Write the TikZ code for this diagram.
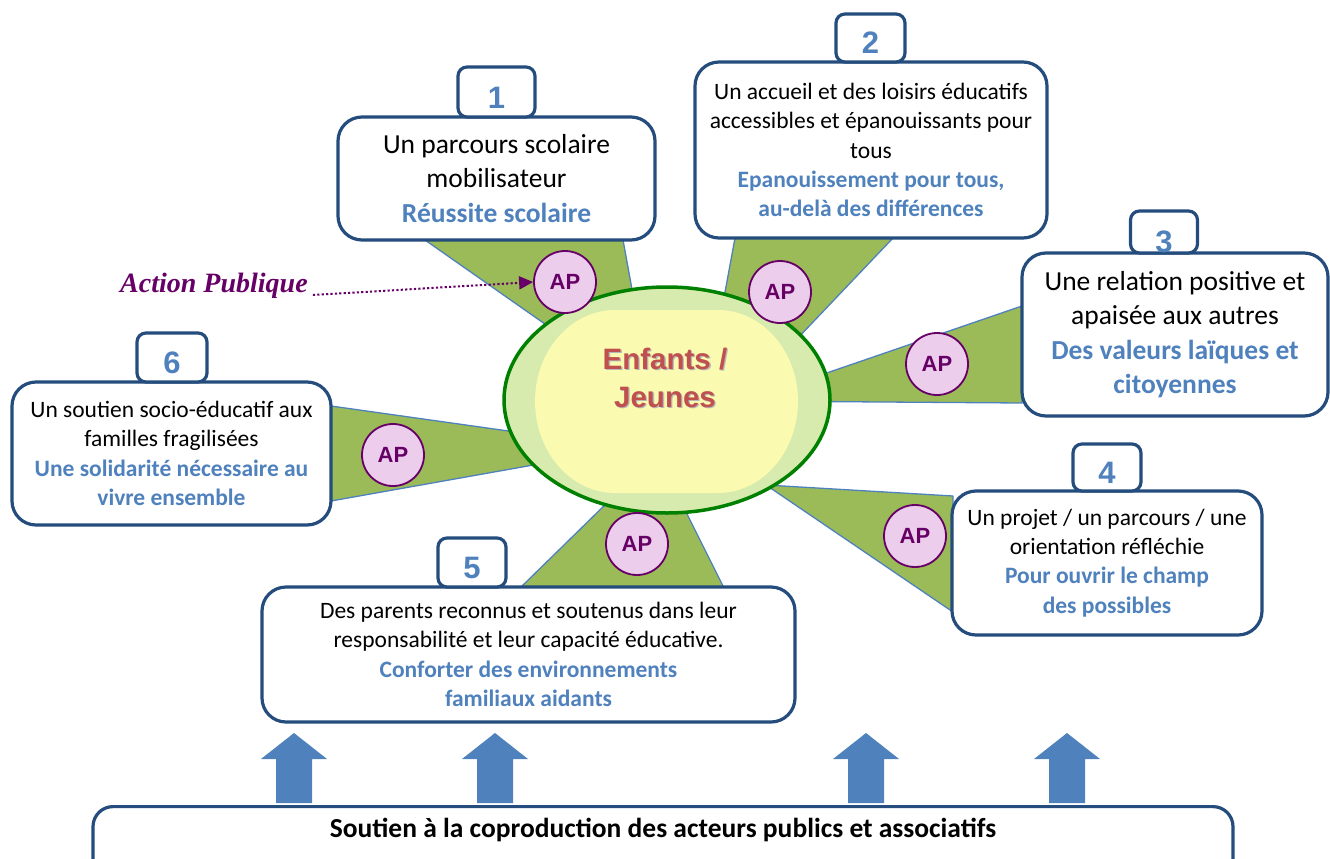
\documentclass[tikz,border=0pt]{standalone}
\usepackage{fontspec}
\setmainfont{Carlito}
\newfontfamily\lsans{Liberation Sans}
\newfontfamily\lserif{Liberation Serif}
\usetikzlibrary{arrows.meta,shapes.geometric}
\definecolor{boxblue}{HTML}{244C7C}
\definecolor{accent}{HTML}{4F81BD}
\definecolor{wedgegreen}{HTML}{9BBB59}
\definecolor{ringgreen}{HTML}{D8EBAE}
\definecolor{inneryellow}{HTML}{FAFAB1}
\definecolor{ellgreen}{HTML}{008000}
\definecolor{apfill}{HTML}{ECCDEB}
\definecolor{apline}{HTML}{660066}
\definecolor{titlered}{HTML}{C0504D}
\tikzset{
  mainbox/.style={draw=boxblue, line width=3.2pt, fill=white, rounded corners=24pt, align=center, inner sep=0pt},
  numbox/.style={draw=boxblue, line width=3.2pt, fill=white, rounded corners=9pt, inner sep=0pt,
    font=\lsans\bfseries\fontsize{31}{31}\selectfont, text=accent, text height=32pt, text depth=0pt},
  bigtxt/.style={font=\fontsize{27.5}{34.3}\selectfont},
  smalltxt/.style={font=\fontsize{23.5}{29.2}\selectfont},
  wedge/.style={fill=wedgegreen, draw=accent, line width=1.3pt, line join=round},
  apnode/.style={circle, draw=apline, line width=1.8pt, fill=apfill, minimum size=62pt, inner sep=0pt,
    text=apline, font=\lsans\bfseries\fontsize{22}{22}\selectfont},
  titletxt/.style={align=center, font=\lsans\bfseries\fontsize{29.5}{38}\selectfont},
  blockarrow/.style={fill=accent},
}
\newcommand{\hl}[1]{{\color{accent}\bfseries #1}}
\begin{document}
\begin{tikzpicture}[x=1pt,y=-1pt]
\useasboundingbox (0,0) rectangle (1330,859);
\clip (0,0) rectangle (1330,859);

% wedges (behind everything)
\filldraw[wedge] (425,240) -- (623,240) -- (652,399) -- cycle;
\filldraw[wedge] (735,238) -- (893,238) -- (697,444) -- cycle;
\filldraw[wedge] (1022,306) -- (1022,403) -- (745,401) -- cycle;
\filldraw[wedge] (953,496) -- (953,612) -- (766,485) -- cycle;
\filldraw[wedge] (518,590) -- (725,590) -- (657,454) -- cycle;
\filldraw[wedge] (331,406) -- (331,501) -- (629,448) -- cycle;

% centre
\node[ellipse, draw=ellgreen, line width=3.5pt, fill=ringgreen, minimum width=326pt, minimum height=226pt] (centre) at (667,400) {};
\fill[inneryellow] (615,310) -- (718,310) .. controls (762,310) and (798,351) .. (798,401)
  .. controls (798,452) and (762,493) .. (718,493) -- (615,493)
  .. controls (571,493) and (535,452) .. (535,401) .. controls (535,351) and (571,310) .. (615,310) -- cycle;
\node[titletxt, text=black!28] (titleshadow) at (666.3,379.3) {Enfants /\\Jeunes};
\node[titletxt, text=titlered] (title) at (665,378) {Enfants /\\Jeunes};

% boxes
\node[mainbox, bigtxt, minimum width=317pt, minimum height=123pt] (b1) at (496.5,178.5)
  {Un parcours scolaire\\mobilisateur\\\hl{Réussite scolaire}};
\node[mainbox, smalltxt, minimum width=352pt, minimum height=176pt] (b2) at (871,150)
  {Un accueil et des loisirs éducatifs\\accessibles et épanouissants pour\\tous\\\hl{Epanouissement pour tous,}\\\hl{au-delà des différences}};
\node[mainbox, bigtxt, minimum width=306pt, minimum height=163pt] (b3) at (1175,334.5)
  {Une relation positive et\\apaisée aux autres\\\hl{Des valeurs laïques et}\\\hl{citoyennes}};
\node[mainbox, smalltxt, minimum width=310pt, minimum height=144pt] (b4) at (1107,563)
  {Un projet / un parcours / une\\orientation réfléchie\\\hl{Pour ouvrir le champ}\\\hl{des possibles}};
\node[mainbox, smalltxt, minimum width=533pt, minimum height=135pt] (b5) at (528.5,654.5)
  {Des parents reconnus et soutenus dans leur\\responsabilité et leur capacité éducative.\\\hl{Conforter des environnements}\\\hl{familiaux aidants}};
\node[mainbox, smalltxt, minimum width=319pt, minimum height=143pt] (b6) at (171.5,453.5)
  {Un soutien socio-éducatif aux\\familles fragilisées\\\hl{Une solidarité nécessaire au}\\\hl{vivre ensemble}};

% number tabs
\node[numbox, minimum width=77pt, minimum height=50pt] (n1) at (496.5,92) {1};
\node[numbox, minimum width=69pt, minimum height=48pt] (n2) at (870.5,38) {2};
\node[numbox, minimum width=67pt, minimum height=42pt, text height=40pt] (n3) at (1164,232) {3};
\node[numbox, minimum width=68pt, minimum height=47pt] (n4) at (1107,467.5) {4};
\node[numbox, minimum width=68pt, minimum height=49pt] (n5) at (472,562.5) {5};
\node[numbox, minimum width=70pt, minimum height=49pt] (n6) at (172,357.5) {6};

% AP circles
\node[apnode] (ap1) at (565,282) {AP};
\node[apnode] (ap2) at (780,292) {AP};
\node[apnode] (ap3) at (937,364) {AP};
\node[apnode] (ap4) at (915,536) {AP};
\node[apnode] (ap5) at (637,544) {AP};
\node[apnode] (ap6) at (393,455) {AP};

% Action publique
\node[font=\lserif\bfseries\itshape\fontsize{28}{28}\selectfont, text=apline, anchor=base west, inner sep=0pt] (actpub) at (120,292) {Action Publique};
\draw[apline, line width=2pt, dash pattern=on 2.2pt off 2.2pt, -{Triangle[length=14pt,width=13pt]}]
  ([shift={(5,3)}]actpub.base east) -- (ap1.west);

% base box
\node[mainbox, minimum width=1140pt, minimum height=110pt, anchor=north, rounded corners=20pt] (base) at (663,805) {};
\node[font=\bfseries\fontsize{27.5}{30}\selectfont] (basetxt) at (663,830) {Soutien à la coproduction des acteurs publics et associatifs};

% block arrows
\foreach \x in {294,495,866,1067}{
  \fill[blockarrow] (\x-18,803) -- (\x-18,759) -- (\x-33,759) -- (\x,733) -- (\x+33,759) -- (\x+18,759) -- (\x+18,803) -- cycle;
}
\end{tikzpicture}
\end{document}
